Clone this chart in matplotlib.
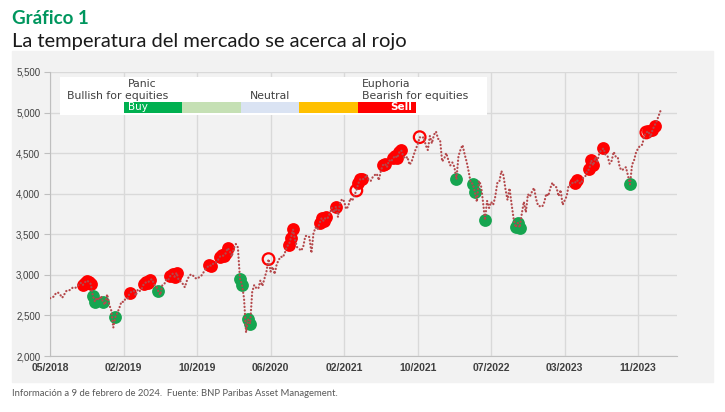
import matplotlib
matplotlib.use("Agg")
import matplotlib.pyplot as plt
from matplotlib.patches import Rectangle
import numpy as np

# weekly index level, 18/05/2018 .. 09/02/2024
values = [
    # 2018
    2712, 2721, 2735, 2779, 2780, 2755, 2718, 2760, 2801, 2802, 2819, 2840, 2833,
    2850, 2875, 2901, 2872, 2904, 2930, 2914, 2886, 2740, 2670, 2720, 2690, 2740,
    2660, 2633, 2760, 2633, 2560, 2350, 2480,
    # 2019
    2532, 2596, 2671, 2665, 2707, 2708, 2776, 2793, 2804, 2743, 2822, 2801, 2834,
    2893, 2907, 2905, 2940, 2946, 2881, 2860, 2800, 2752, 2873, 2887, 2950, 2942,
    2990, 3014, 2977, 3026, 2932, 2919, 2889, 2847, 2926, 2979, 3007, 2992, 2962,
    2952, 2970, 2986, 3023, 3067, 3093, 3120, 3110, 3141, 3146, 3169, 3221, 3240,
    # 2020
    3235, 3265, 3330, 3295, 3226, 3328, 3380, 3338, 2954, 2880, 2711, 2290, 2450,
    2400, 2790, 2875, 2837, 2831, 2930, 2864, 2955, 3044, 3194, 3041, 3098, 3009,
    3130, 3185, 3225, 3216, 3271, 3351, 3373, 3460, 3560, 3427, 3341, 3319, 3298,
    3348, 3477, 3483, 3465, 3270, 3509, 3585, 3558, 3638, 3699, 3663, 3709, 3703,
    3756,
    # 2021
    3825, 3768, 3841, 3714, 3887, 3934, 3907, 3811, 3842, 3943, 3913, 3975, 4040,
    4129, 4185, 4180, 4181, 4233, 4174, 4156, 4204, 4230, 4247, 4166, 4281, 4352,
    4370, 4327, 4412, 4395, 4437, 4468, 4442, 4509, 4535, 4459, 4433, 4455, 4357,
    4391, 4471, 4545, 4605, 4697, 4683, 4698, 4595, 4538, 4712, 4620, 4726, 4766,
    # 2022
    4677, 4663, 4398, 4432, 4501, 4419, 4349, 4385, 4329, 4180, 4463, 4543, 4600,
    4488, 4393, 4272, 4132, 4123, 4024, 3901, 4158, 4109, 3901, 3675, 3912, 3825,
    3899, 3863, 3962, 4130, 4145, 4280, 4228, 4058, 3924, 4067, 3873, 3693, 3586,
    3640, 3583, 3753, 3901, 3771, 3993, 3965, 4026, 4072, 3934, 3852, 3845, 3840,
    # 2023
    3895, 3999, 3973, 4071, 4136, 4090, 4079, 3970, 4046, 3862, 3917, 3971, 4109,
    4105, 4138, 4133, 4169, 4136, 4124, 4192, 4205, 4282, 4299, 4410, 4348, 4450,
    4399, 4505, 4536, 4560, 4478, 4464, 4370, 4406, 4516, 4457, 4450, 4320, 4288,
    4308, 4327, 4224, 4117, 4358, 4415, 4514, 4559, 4595, 4604, 4719, 4755, 4770,
    # 2024
    4697, 4784, 4840, 4891, 4959, 5027,
]

# weeks flagged by the indicator
sell_weeks = [16, 17, 18, 19, 20, 39, 46, 47, 48, 49, 59, 60, 61, 62, 78, 79,
              83, 84, 85, 86, 87, 117, 118, 119, 132, 133, 134, 135, 140,
              151, 152, 153, 163, 164, 168, 169, 170, 171, 172,
              257, 258, 264, 265, 266, 271, 293, 295, 296]
buy_weeks = [21, 22, 26, 32, 53, 93, 94, 97, 98, 199, 207, 208, 213,
             228, 229, 230, 284]
ring_weeks = [107, 150, 181, 292]

tick_weeks = [0, 36, 72, 108, 144, 180, 216, 252, 288]
tick_labels = ['05/2018', '02/2019', '10/2019', '06/2020', '02/2021',
               '10/2021', '07/2022', '03/2023', '11/2023']

scale_labels = ['Buy', '', '', '', 'Sell']
scale_colors = ['#00b050', '#c5e0b4', '#dae3f3', '#ffc000', '#ff0000']

W, H = 725, 412


def fx(px):
    return px / W


def fy(py):
    return 1 - py / H


fig = plt.figure(figsize=(W / 100, H / 100), dpi=100)
fig.patches.append(Rectangle((fx(12), fy(382)), fx(713) - fx(12), fy(51) - fy(382),
                             transform=fig.transFigure, color='#f2f2f2', zorder=-10))

ax = fig.add_axes([fx(50), fy(356), fx(677) - fx(50), fy(72) - fy(356)])
ax.set_facecolor('none')

x = np.arange(len(values))
y = np.array(values)

ax.plot(x, y, color='#b4484b', linewidth=1.6, linestyle=(0, (0.1, 1.5)),
        dash_capstyle='round', zorder=4)
ax.scatter(x[sell_weeks], y[sell_weeks], s=85, color='#ff0000', linewidths=0, zorder=3)
ax.scatter(x[buy_weeks], y[buy_weeks], s=85, color='#16a550', linewidths=0, zorder=3)
ax.scatter(x[ring_weeks], y[ring_weeks], s=70, facecolors='none', edgecolors='#ff0000',
           linewidths=1.6, zorder=3)

ax.set_xlim(0, 307)
ax.set_ylim(2000, 5500)
ax.set_yticks(np.arange(2000, 5501, 500))
ax.set_yticklabels([f'{v:,}' for v in range(2000, 5501, 500)])
ax.set_xticks(tick_weeks)
ax.set_xticklabels(tick_labels)
ax.grid(True, color='#d9d9d9', linewidth=1)
ax.set_axisbelow(True)
for side in ['top', 'right']:
    ax.spines[side].set_visible(False)
for side in ['left', 'bottom']:
    ax.spines[side].set_color('#bfbfbf')
ax.tick_params(axis='y', length=4, color='#bfbfbf', labelsize=7, labelcolor='#404040', pad=3)
ax.tick_params(axis='x', length=0, labelsize=7.5, labelcolor='#404040', pad=5)
for lab in ax.get_yticklabels():
    lab.set_family('Liberation Sans')
for lab in ax.get_xticklabels():
    lab.set_family('Liberation Sans')
    lab.set_fontweight('bold')

# scale legend
ax.add_patch(Rectangle((fx(60), fy(115)), fx(487) - fx(60), fy(77) - fy(115),
                       transform=fig.transFigure, facecolor='white', edgecolor='none',
                       zorder=5, clip_on=False))
seg_w = (416 - 124) / len(scale_colors)
for i, (lab, col) in enumerate(zip(scale_labels, scale_colors)):
    left = 124 + i * seg_w
    ax.add_patch(Rectangle((fx(left), fy(113)), fx(seg_w), fy(102) - fy(113),
                           transform=fig.transFigure, facecolor=col, edgecolor='none',
                           zorder=6, clip_on=False))
    if lab == 'Buy':
        ax.text(fx(left + 4), fy(107.5), lab, color='white', fontsize=7.5,
                va='center', ha='left', zorder=7, transform=fig.transFigure)
    elif lab:
        ax.text(fx(left + seg_w - 4), fy(107.5), lab, color='white', fontsize=7.5,
                fontweight='bold', va='center', ha='right', zorder=7,
                transform=fig.transFigure)

txt = dict(fontsize=7.8, color='#404040', va='center', zorder=7, transform=fig.transFigure)
ax.text(fx(142), fy(84), 'Panic', ha='center', **txt)
ax.text(fx(67), fy(96), 'Bullish for equities', ha='left', **txt)
ax.text(fx(270), fy(96), 'Neutral', ha='center', **txt)
ax.text(fx(362), fy(84), 'Euphoria', ha='left', **txt)
ax.text(fx(362), fy(96), 'Bearish for equities', ha='left', **txt)

fig.text(fx(12), fy(18), 'Gráfico 1', fontsize=13.5, fontweight='bold',
         color='#00965e', family='Lato', va='center')
fig.text(fx(12), fy(41), 'La temperatura del mercado se acerca al rojo', fontsize=14.5,
         color='#1a1a1a', family='Lato', va='center')
fig.text(fx(12), fy(393), 'Información a 9 de febrero de 2024.  Fuente: BNP Paribas Asset Management.',
         fontsize=6.85, color='#595959', family='Lato', va='center')

fig.savefig('out.png', dpi=100)
